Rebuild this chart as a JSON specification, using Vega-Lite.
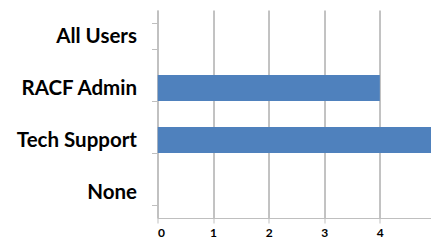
{
  "$schema": "https://vega.github.io/schema/vega-lite/v6.json",
  "autosize": "none",
  "width": 273.5,
  "height": 208,
  "padding": {"left": 157.5, "top": 10, "right": 0, "bottom": 24},
  "background": "white",
  "config": {"view": {"stroke": null}},
  "data": {"values": [
    {"role": "All Users", "count": 0},
    {"role": "RACF Admin", "count": 4},
    {"role": "Tech Support", "count": 5},
    {"role": "None", "count": 0}
  ]},
  "mark": {"type": "bar", "color": "#4f81bd", "clip": true},
  "encoding": {
    "y": {
      "field": "role", "type": "nominal",
      "sort": ["All Users", "RACF Admin", "Tech Support", "None"],
      "scale": {"paddingInner": 0.5, "paddingOuter": 0.25},
      "axis": {
        "title": null,
        "tickBand": "extent",
        "domainColor": "#bfbfbf",
        "tickColor": "#bfbfbf",
        "tickSize": 6,
        "labelFont": "Lato",
        "labelFontWeight": "bold",
        "labelFontSize": 20.5,
        "labelColor": "#000000",
        "labelPadding": 15,
        "labelLimit": 200,
        "grid": false
      }
    },
    "x": {
      "field": "count", "type": "quantitative",
      "scale": {"domain": [0, 4.92], "nice": false, "zero": true},
      "axis": {
        "title": null,
        "values": [0, 1, 2, 3, 4],
        "grid": true,
        "gridColor": "#868686",
        "gridWidth": 1,
        "domainColor": "#bfbfbf",
        "tickColor": "#bfbfbf",
        "tickSize": 5,
        "labelFont": "Lato",
        "labelFontWeight": "bold",
        "labelFontSize": 12,
        "labelColor": "#000000",
        "labelPadding": 4
      }
    }
  }
}
